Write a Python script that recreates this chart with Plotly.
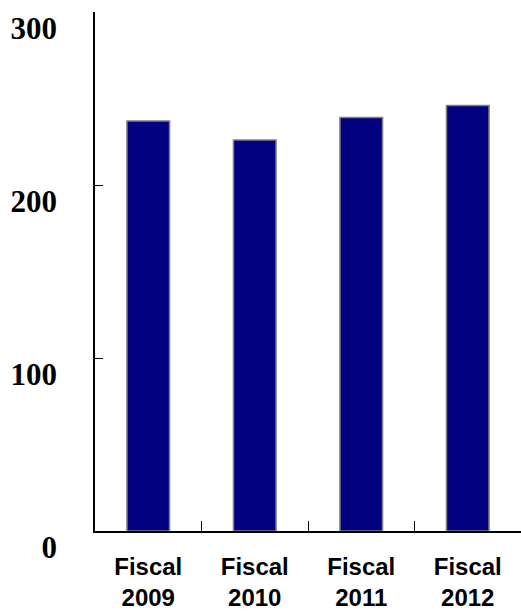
import plotly.graph_objects as go

categories = ["Fiscal<br>2009", "Fiscal<br>2010", "Fiscal<br>2011", "Fiscal<br>2012"]
values = [237, 226, 239, 246]
y_ticks = [0, 100, 200, 300]
y_tick_labels = ["0", "100", "200", "300"]

fig = go.Figure()
fig.add_trace(go.Bar(
    x=categories, y=values, width=0.4,
    marker=dict(color="#000080", line=dict(color="#808080", width=1.5)),
))

fig.update_layout(
    width=521, height=611,
    margin=dict(l=95, r=0, t=12, b=80),
    plot_bgcolor="white", paper_bgcolor="white",
    showlegend=False,
    bargap=0.6,
)
fig.update_xaxes(
    type="category", range=[-0.5, 3.5], automargin=False,
    showline=True, linecolor="black", linewidth=1.5,
    ticks="inside", tickson="boundaries", ticklen=10, tickcolor="black", tickwidth=1,
    tickfont=dict(family="Liberation Sans, Arial", size=24, color="black", weight="bold"),
    ticklabelstandoff=13,
    showgrid=False, zeroline=False,
)
fig.update_yaxes(
    range=[0, 300], tickvals=y_ticks, ticktext=y_tick_labels, automargin=False,
    showline=True, linecolor="black", linewidth=1.5,
    ticks="inside", ticklen=8, tickcolor="black", tickwidth=1,
    tickfont=dict(family="Liberation Serif, Times New Roman", size=31, color="black", weight="bold"),
    ticklabelstandoff=30, ticklabelshift=16,
    showgrid=False, zeroline=False,
)
fig.write_html("out.html")
